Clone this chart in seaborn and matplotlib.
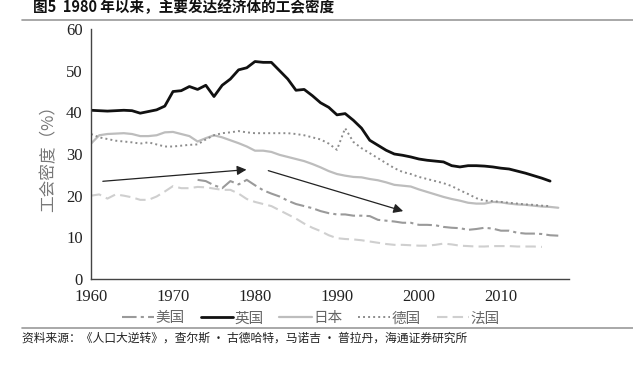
import numpy as np
import pandas as pd
import matplotlib
matplotlib.use('Agg')
import matplotlib.pyplot as plt
import seaborn as sns

# %%

# Union density (%)

years_uk = list(range(1960, 2017))
uk = [40.5, 40.4, 40.3, 40.4, 40.5, 40.4, 39.8, 40.2, 40.6, 41.5,
      45.0, 45.2, 46.2, 45.5, 46.5, 43.8, 46.5, 48.0, 50.2, 50.7,
      52.2, 52.0, 52.0, 50.0, 48.0, 45.3, 45.5, 44.0, 42.3, 41.2,
      39.4, 39.7, 38.1, 36.2, 33.3, 32.1, 30.9, 30.0, 29.7, 29.3,
      28.8, 28.5, 28.3, 28.1, 27.2, 26.9, 27.2, 27.2, 27.1, 26.9,
      26.6, 26.4, 25.9, 25.4, 24.8, 24.2, 23.5]

years_de = list(range(1960, 2017))
de = [34.8, 34.0, 33.6, 33.2, 33.0, 32.8, 32.5, 32.8, 32.3, 31.8,
      31.8, 32.0, 32.2, 32.3, 33.5, 34.5, 35.0, 35.2, 35.5, 35.2,
      35.0, 35.0, 35.0, 35.0, 35.0, 34.8, 34.5, 34.0, 33.5, 32.5,
      31.0, 36.2, 32.9, 31.4, 30.2, 29.0, 27.8, 26.6, 25.7, 25.2,
      24.5, 24.0, 23.5, 23.0, 22.3, 21.3, 20.4, 19.4, 18.8, 18.7,
      18.5, 18.3, 18.1, 17.9, 17.8, 17.6, 17.5]

years_jp = list(range(1960, 2018))
jp = [32.5, 34.5, 34.8, 34.9, 35.0, 34.8, 34.3, 34.3, 34.5, 35.2,
      35.3, 34.8, 34.3, 33.0, 33.8, 34.5, 34.0, 33.3, 32.6, 31.8,
      30.8, 30.8, 30.5, 29.8, 29.3, 28.8, 28.3, 27.6, 26.8, 25.9,
      25.2, 24.8, 24.5, 24.4, 24.0, 23.7, 23.2, 22.6, 22.4, 22.2,
      21.5, 20.9, 20.3, 19.7, 19.2, 18.8, 18.3, 18.1, 18.1, 18.5,
      18.4, 18.1, 17.9, 17.8, 17.6, 17.4, 17.3, 17.1]

years_us = list(range(1973, 2018))
us = [23.8, 23.5, 22.5, 21.8, 23.5, 22.7, 23.8, 22.5, 21.3, 20.5,
      19.8, 18.8, 18.0, 17.5, 17.0, 16.3, 15.8, 15.5, 15.5, 15.2,
      15.2, 15.1, 14.2, 14.0, 13.8, 13.5, 13.5, 13.0, 13.0, 12.9,
      12.5, 12.3, 12.2, 11.8, 12.0, 12.3, 12.1, 11.6, 11.6, 11.1,
      10.9, 10.9, 10.8, 10.5, 10.4]

years_fr = list(range(1960, 2016))
fr = [20.0, 20.3, 19.3, 20.3, 20.0, 19.6, 19.0, 19.0, 19.8, 21.0,
      22.3, 21.8, 21.8, 22.1, 22.0, 21.7, 21.4, 21.4, 20.5, 19.2,
      18.5, 18.0, 17.5, 16.5, 15.5, 14.5, 13.3, 12.3, 11.5, 10.5,
      9.8, 9.6, 9.5, 9.3, 9.0, 8.7, 8.4, 8.2, 8.2, 8.1,
      8.0, 8.0, 8.2, 8.5, 8.3, 8.0, 7.9, 7.8, 7.8, 7.9,
      7.9, 7.9, 7.8, 7.8, 7.8, 7.7]

names = ['美国', '英国', '日本', '德国', '法国']

# %%

sns.set_style('white')
plt.rcParams['font.family'] = ['Noto Sans CJK SC', 'DejaVu Sans']

fig = plt.figure(figsize=(6.33, 3.66), dpi=100)
ax = fig.add_axes([0.1438, 0.2377, 0.755, 0.683])

series = [
    (years_us, us, '#9a9a9a', (0, (7, 2, 1.5, 2)), 1.5),
    (years_uk, uk, '#111111', '-', 2.0),
    (years_jp, jp, '#bdbdbd', '-', 1.6),
    (years_de, de, '#8c8c8c', (0, (1, 1.6)), 1.4),
    (years_fr, fr, '#cfcfcf', (0, (5, 2.5)), 1.5),
]

for (x, y, c, ls, lw), name in zip(series, names):
    sns.lineplot(x=x, y=y, ax=ax, color=c, linestyle=ls, linewidth=lw,
                 label=name)

# Trend arrows
ax.annotate('', xy=(1979.3, 26.3), xytext=(1961.1, 23.4),
            arrowprops=dict(arrowstyle='-|>', color='#222222', lw=0.9,
                            mutation_scale=14))
ax.annotate('', xy=(1998.4, 16.1), xytext=(1981.3, 26.2),
            arrowprops=dict(arrowstyle='-|>', color='#222222', lw=0.9,
                            mutation_scale=14))

ax.set_xlim(1960, 2018.3)
ax.set_ylim(0, 60)
ax.set_xticks([1960, 1970, 1980, 1990, 2000, 2010, 2018.3])
ax.set_xticklabels(['1960', '1970', '1980', '1990', '2000', '2010', ''])
ax.set_yticks(range(0, 61, 10))

for lab in ax.get_xticklabels() + ax.get_yticklabels():
    lab.set_fontfamily('Liberation Serif')
    lab.set_fontsize(12)
    lab.set_color('#222222')

ax.tick_params(direction='in', length=4, width=1, color='#444444')
ax.tick_params(axis='x', pad=7)
ax.tick_params(axis='y', pad=6)
sns.despine(ax=ax)
for s in ['left', 'bottom']:
    ax.spines[s].set_color('#444444')
    ax.spines[s].set_linewidth(1)

ax.set_xlabel('')
ax.set_ylabel('工会密度（%）', fontsize=12, color='#777777', labelpad=6)

ax.legend(loc='center', bbox_to_anchor=(0.46, -0.158), ncol=5,
          frameon=False, fontsize=10.5, handlelength=2.2, handletextpad=0.1,
          columnspacing=1.1, labelcolor='#666666', borderaxespad=0,
          borderpad=0)

# Title, rules and source
fig.text(0.052, 0.981, '图5  1980 年以来，主要发达经济体的工会密度',
         fontsize=10.5, fontweight='bold', ha='left', va='center',
         color='#111111')
fig.add_artist(plt.Line2D([0.035, 1.0], [0.945, 0.945], color='#999999',
                          lw=1.2, transform=fig.transFigure))
fig.add_artist(plt.Line2D([0.035, 1.0], [0.105, 0.105], color='#999999',
                          lw=1.2, transform=fig.transFigure))
fig.text(0.035, 0.075,
         '资料来源：《人口大逆转》，查尔斯 · 古德哈特，马诺吉 · 普拉丹，海通证券研究所',
         fontsize=8.5, ha='left', va='center', color='#222222')

fig.savefig('out.png', dpi=100)
